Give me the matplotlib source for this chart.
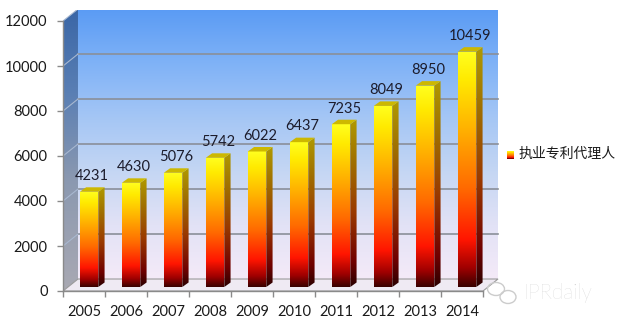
import numpy as np
import matplotlib
matplotlib.use("Agg")
import matplotlib.pyplot as plt
from matplotlib.colors import LinearSegmentedColormap
from matplotlib.patches import Polygon, Ellipse

years = ['2005', '2006', '2007', '2008', '2009', '2010', '2011', '2012', '2013', '2014']
agents = [4231, 4630, 5076, 5742, 6022, 6437, 7235, 8049, 8950, 10459]
yticks = [0, 2000, 4000, 6000, 8000, 10000, 12000]
series_name = '执业专利代理人'

YMAX = 12000
DX, DY = 0.357, 533        # depth of the box (category units, value units)
BX, BY = 0.40, 178         # bar front face offset inside the box
BW = 0.44                  # bar front face width
SX, SY = 0.15, 200         # bar side/top depth

front_cm = LinearSegmentedColormap.from_list('front', [
    (0.0, '#3a0000'), (0.08, '#a00000'), (0.2, '#ff1500'), (0.42, '#ff6a00'),
    (0.68, '#ffb400'), (0.88, '#ffea00'), (1.0, '#ffff20')])
side_cm = LinearSegmentedColormap.from_list('side', [
    (0.0, '#2a0000'), (0.15, '#700000'), (0.45, '#9a3a00'),
    (0.75, '#a07000'), (1.0, '#b09a00')])
back_cm = LinearSegmentedColormap.from_list('back', [
    (0.0, '#f4eaf8'), (0.2, '#e2e2f6'), (0.4, '#c4d6f3'),
    (0.6, '#a4c6f5'), (0.8, '#7fb2f7'), (1.0, '#5a9bf4')])
left_cm = LinearSegmentedColormap.from_list('left', [
    (0.0, '#a9a9b3'), (0.4, '#8a98b0'), (0.7, '#5a7fb4'), (1.0, '#3a66a6')])

plt.rcParams['font.family'] = ['Lato', 'DejaVu Sans']

fig = plt.figure(figsize=(6.18, 3.25), dpi=100)
ax = fig.add_axes([63 / 618, 34 / 325, 436.8 / 618, 281.25 / 325])
ax.set_facecolor('none')
grad = np.linspace(0, 1, 256).reshape(-1, 1)


def shade(verts, cmap, y0, y1, z):
    xs = [v[0] for v in verts]
    poly = Polygon(verts, closed=True, facecolor='none', edgecolor='none')
    ax.add_patch(poly)
    im = ax.imshow(grad, cmap=cmap, origin='lower', aspect='auto',
                   extent=[min(xs), max(xs), y0, y1], zorder=z,
                   interpolation='bilinear')
    im.set_clip_path(poly)


n = len(years)
# walls
shade([(DX, DY), (n + DX, DY), (n + DX, YMAX + DY), (DX, YMAX + DY)],
      back_cm, DY, YMAX + DY, 0)
shade([(0, 0), (DX, DY), (DX, YMAX + DY), (0, YMAX)],
      left_cm, 0, YMAX + DY, 0)
for v in yticks[1:]:
    ax.plot([DX, n + DX], [v + DY, v + DY], color='#8a8f99', lw=1.2, zorder=1)
    ax.plot([0, DX], [v, v + DY], color='#a8b8d0', lw=0.8, zorder=1)
# floor
ax.add_patch(Polygon([(0, 0), (n, 0), (n + DX, DY), (DX, DY)], closed=True,
                     facecolor='#efeaf3', edgecolor='#9a9a9a', lw=0.8, zorder=2))

# bars
for i, v in enumerate(agents):
    x0 = i + BX
    x1 = x0 + BW
    top = v + BY
    shade([(x0, BY), (x1, BY), (x1, top), (x0, top)], front_cm, BY, top, 4)
    shade([(x1, BY), (x1 + SX, BY + SY), (x1 + SX, top + SY), (x1, top)],
          side_cm, BY, top + SY, 4)
    ax.add_patch(Polygon([(x0, top), (x1, top), (x1 + SX, top + SY), (x0 + SX, top + SY)],
                         closed=True, facecolor='#cdb800', edgecolor='none', zorder=5))
    ax.annotate(f'{v}', (x0 + BW / 2 + SX / 2, top + SY), xytext=(0, 3),
                textcoords='offset points', ha='center', va='bottom',
                fontsize=10.5, color='#1c1c2c', zorder=6)

ax.set_xlim(0, 10.4)
ax.set_ylim(0, 12500)

for s in ['top', 'right']:
    ax.spines[s].set_visible(False)
ax.spines['left'].set_bounds(0, YMAX)
ax.spines['bottom'].set_bounds(0, n)
for s in ['left', 'bottom']:
    ax.spines[s].set_color('#8a8a8a')
    ax.spines[s].set_linewidth(1.0)
    ax.spines[s].set_zorder(3)

ax.set_yticks(yticks)
ax.set_yticklabels([str(t) for t in yticks])
ax.tick_params(axis='y', length=4, width=1, color='#8a8a8a', pad=7,
               labelsize=10.5, labelcolor='#1a1a1a')
ax.set_xticks(range(n + 1))
ax.set_xticklabels([])
ax.set_xticks([i + 0.5 for i in range(n)], minor=True)
ax.set_xticklabels(years, minor=True)
ax.tick_params(axis='x', which='major', length=4, width=1, color='#8a8a8a')
ax.tick_params(axis='x', which='minor', length=0, pad=10,
               labelsize=10.5, labelcolor='#1a1a1a')

# legend
lax = fig.add_axes([507 / 618, (325 - 159) / 325, 7 / 618, 8 / 325])
lax.imshow(grad, cmap=front_cm, origin='lower', aspect='auto')
lax.axis('off')
fig.text(519 / 618, 1 - 154 / 325, series_name, ha='left', va='center',
         fontsize=10, color='#1a1a1a',
         family=['Noto Sans CJK SC', 'DejaVu Sans'])

# watermark
fig.text(524 / 618, 1 - 293 / 325, 'IPRdaily', ha='left', va='center',
         fontsize=15, color='#c8c8c8', fontweight='light')
fig.add_artist(Ellipse((496 / 618, 1 - 289 / 325), 17 / 618, 13 / 325,
                       transform=fig.transFigure, fill=False, ec='#cccccc', lw=1))
fig.add_artist(Ellipse((508 / 618, 1 - 297 / 325), 16 / 618, 13 / 325,
                       transform=fig.transFigure, fill=False, ec='#cccccc', lw=1))

fig.savefig('out.png', dpi=100)
